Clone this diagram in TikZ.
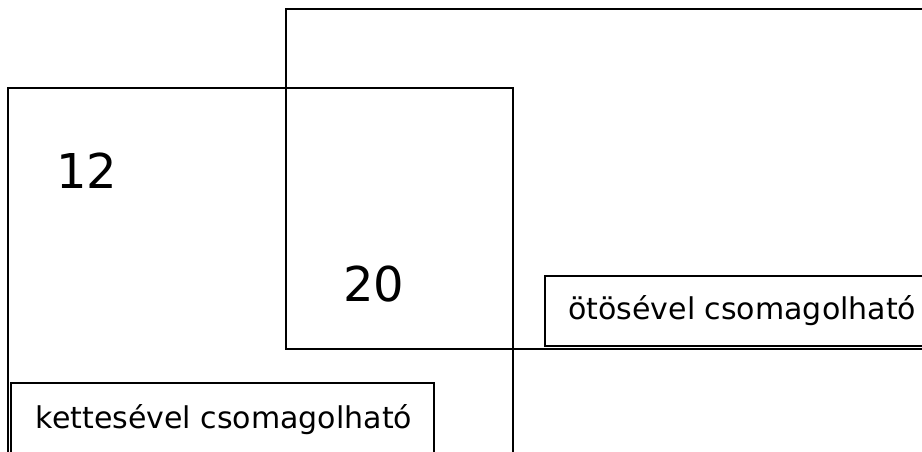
\documentclass[tikz,border=0pt]{standalone}
\usepackage{fontspec}
\setmainfont{DejaVu Sans}
\begin{document}
\begin{tikzpicture}[x=1pt,y=-1pt,line width=1.8pt,
    numtext/.style={font=\fontsize{48}{56}\selectfont},
    boxtext/.style={font=\fontsize{30}{36}\selectfont}]
  \useasboundingbox (0,0) rectangle (922,451);
  \clip (0,0) rectangle (922,451);

  % the two overlapping sets
  \draw (8,470) -- (8,88) -- (513,88) -- (513,470);
  \draw (940,349) -- (286,349) -- (286,9) -- (940,9);

  % the two name boxes
  \draw (940,276) -- (545,276) -- (545,346) -- (940,346);
  \draw (11,470) -- (11,383) -- (434,383) -- (434,470);

  \node[numtext] (twelve) at (87,171) {12};
  \node[numtext] (twenty) at (374,284) {20};

  \node[boxtext,anchor=west] (otos) at (564,311) {ötösével csomagolható};
  \node[boxtext] (kettes) at (224,420) {kettesével csomagolható};
\end{tikzpicture}
\end{document}
